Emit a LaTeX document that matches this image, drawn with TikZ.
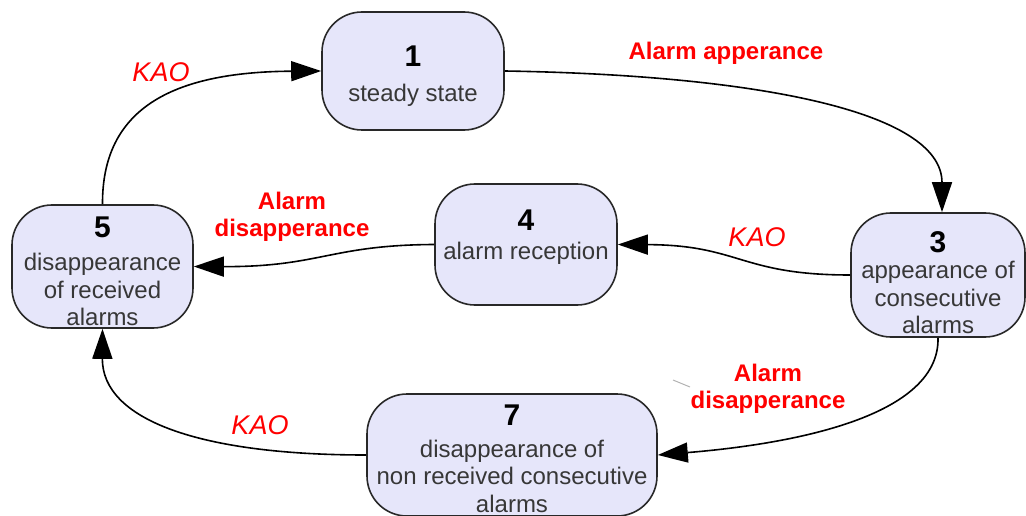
\documentclass[tikz,border=0pt]{standalone}
\usepackage{fontspec}
\setmainfont{Liberation Sans}
\usetikzlibrary{arrows.meta}
\definecolor{boxfill}{RGB}{230,230,250}
\definecolor{boxline}{RGB}{40,40,40}
\definecolor{txt}{RGB}{55,55,55}
\definecolor{lblred}{RGB}{255,0,0}
\begin{document}
\begin{tikzpicture}[x=1pt,y=-1pt,
  state/.style={draw=boxline, fill=boxfill, line width=1.6pt, rounded corners=40pt, inner sep=0pt},
  num/.style={font=\fontsize{30}{30}\selectfont\bfseries, text=black},
  desc/.style={font=\fontsize{24}{27.5}\selectfont, text=txt, align=center, inner sep=0pt},
  lbl/.style={font=\fontsize{24}{27}\selectfont\bfseries, text=lblred, align=center, inner sep=0pt},
  kao/.style={font=\fontsize{27}{27}\selectfont\itshape, text=lblred, inner sep=0pt},
  edge/.style={draw=black, line width=1.6pt, -{Triangle[length=30pt,width=20pt]}}]
\useasboundingbox (0,0) rectangle (1026,516);

% states
\node[state, minimum width=182pt, minimum height=118pt] (n1) at (413,71) {};
\node[num] (n1n) at (413,56) {1};
\node[desc] (n1d) at (413,95) {steady state};

\node[state, minimum width=181pt, minimum height=123pt] (n5) at (102.5,266.5) {};
\node[num] (n5n) at (102.5,227) {5};
\node[desc] (n5d) at (102.5,289.5) {disappearance\\of received\\alarms};

\node[state, minimum width=182pt, minimum height=121pt] (n4) at (526,244.5) {};
\node[num] (n4n) at (526,220) {4};
\node[desc] (n4d) at (526,253) {alarm reception};

\node[state, minimum width=174pt, minimum height=124pt] (n3) at (938,275) {};
\node[num] (n3n) at (938,242) {3};
\node[desc] (n3d) at (938,297.5) {appearance of\\consecutive\\alarms};

\node[state, minimum width=290pt, minimum height=122pt] (n7) at (512,455) {};
\node[num] (n7n) at (512,415) {7};
\node[desc] (n7d) at (512,476) {disappearance of\\non received consecutive\\alarms};

% transitions
\draw[edge] (n5.north) .. controls (102,110) and (170,72) .. (n1.west);
\draw[edge] (n1.east) .. controls (750,75) and (942,110) .. ([xshift=4pt]n3.north);
\draw[edge] (n3.west) .. controls (740,275) and (740,245) .. (n4.east);
\draw[edge] (n4.west) .. controls (330,245) and (320,267) .. (n5.east);
\draw[edge] (n3.south) .. controls (940,420) and (780,445) .. (n7.east);
\draw[edge] (n7.west) .. controls (200,455) and (102,420) .. (n5.south);

% labels
\node[kao] (k1) at (161,72) {KAO};
\node[lbl] (l1) at (726,53) {Alarm apperance};
\node[kao] (k2) at (757,237) {KAO};
\node[lbl] (l2) at (292,216.5) {Alarm\\disapperance};
\node[lbl] (l3) at (768,389) {Alarm\\disapperance};
\node[kao] (k3) at (260,425) {KAO};

% small stray mark
\draw[gray!60, line width=1pt] (673,380) -- (690,387);
\end{tikzpicture}
\end{document}
